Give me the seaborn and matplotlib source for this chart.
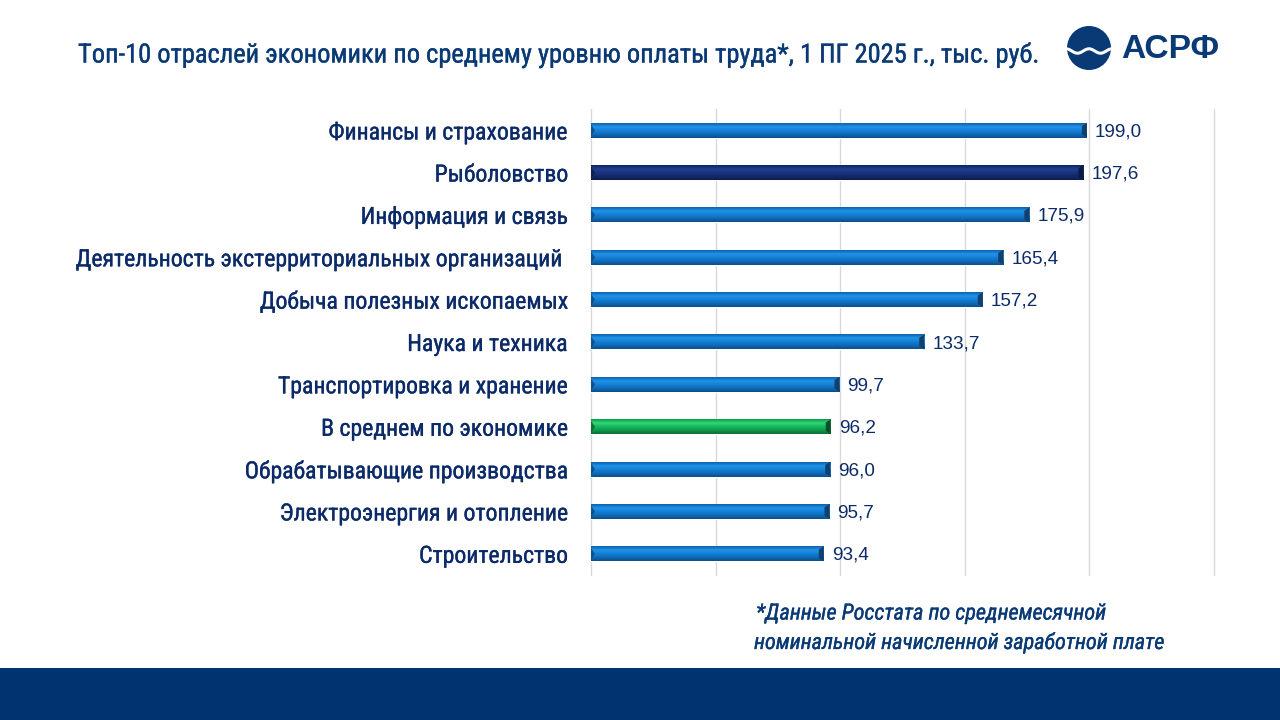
import numpy as np
import pandas as pd
import matplotlib
matplotlib.use("Agg")
import matplotlib.pyplot as plt
import matplotlib.patheffects as pe
from matplotlib.colors import LinearSegmentedColormap
from matplotlib.patches import Circle, Polygon, Rectangle
import seaborn as sns

categories = [
    "Финансы и страхование",
    "Рыболовство",
    "Информация и связь",
    "Деятельность экстерриториальных организаций ",
    "Добыча полезных ископаемых",
    "Наука и техника",
    "Транспортировка и хранение",
    "В среднем по экономике",
    "Обрабатывающие производства",
    "Электроэнергия и отопление",
    "Строительство",
]
values = [199.0, 197.6, 175.9, 165.4, 157.2, 133.7, 99.7, 96.2, 96.0, 95.7, 93.4]
kinds = ["blue", "navy", "blue", "blue", "blue", "blue", "blue", "green", "blue", "blue", "blue"]
x_ticks = [0, 50, 100, 150, 200, 250]

TITLE = "Топ-10 отраслей экономики по среднему уровню оплаты труда*, 1 ПГ 2025 г., тыс. руб."
NOTE_1 = "*Данные Росстата по среднемесячной"
NOTE_2 = "номинальной начисленной заработной плате"

DARK_TEXT = "#0b2a68"
TITLE_COLOR = "#0a3a76"
BAND_COLOR = "#00336f"
NARROW = ["Roboto Condensed", "Liberation Sans", "DejaVu Sans"]
ARIAL = ["Liberation Sans", "DejaVu Sans"]

# gradient stops top to bottom, plus the darker end caps
bevels = {
    "blue": (["#0f63ad", "#1f93ea", "#1480d6", "#0f6bb8", "#0c4f8a"], "#123f6b"),
    "navy": (["#0f2560", "#1f3f8f", "#1a3580", "#122a68", "#0c1f50"], "#0a1a40"),
    "green": (["#0f9a4c", "#2fd877", "#18b85c", "#0f9a4c", "#0a6e38"], "#0b4f2a"),
}
palette = {k: bevels[k][0][2] for k in bevels}


def thicker(color, width=0.25):
    # the reference text is a bit heavier than the regular cut
    return [pe.withStroke(linewidth=width, foreground=color)]


sns.set_style("white")
df = pd.DataFrame({"category": categories, "value": values, "kind": kinds})

fig = plt.figure(figsize=(12.8, 7.2), dpi=100)
W, H = 1280, 720

# page layer in pixel coordinates: title, logo, footnote, bottom band
page = fig.add_axes([0, 0, 1, 1], zorder=0)
page.set_xlim(0, W)
page.set_ylim(H, 0)
page.axis("off")
page.add_patch(Rectangle((0, 668), W, 52, color=BAND_COLOR, lw=0))
page.text(78, 55, TITLE, family=NARROW, fontsize=19.05, color=TITLE_COLOR, va="center", ha="left",
          path_effects=thicker(TITLE_COLOR))
page.text(756, 614, NOTE_1, family=NARROW, style="italic", fontsize=16, color=TITLE_COLOR, va="center",
          path_effects=thicker(TITLE_COLOR))
page.text(754, 643, NOTE_2, family=NARROW, style="italic", fontsize=16, color=TITLE_COLOR, va="center",
          path_effects=thicker(TITLE_COLOR))

circle = Circle((1089, 48), 22, color=TITLE_COLOR, lw=0)
page.add_patch(circle)
wave_x = np.linspace(1066, 1112, 80)
wave, = page.plot(wave_x, 51 - 2.2 * np.cos((wave_x - 1089) / 46 * 2 * np.pi * 2), color="white", lw=2.2)
wave.set_clip_path(circle)
page.text(1121.5, 49, "АСРФ", family=ARIAL, fontweight="bold", fontsize=24.2, color=TITLE_COLOR, va="center", ha="left")

# chart axes
ax = fig.add_axes([591 / W, 1 - 575 / H, (1214 - 591) / W, (575 - 109) / H], zorder=1)
ax.patch.set_alpha(0)
sns.barplot(data=df, y="category", x="value", hue="kind", palette=palette, dodge=False,
            width=0.35, legend=False, ax=ax)

ax.set_xlim(0, 250)
ax.set_ylim(len(categories) - 0.5, -0.5)
ax.set_xticks(x_ticks)
ax.set_xticklabels([])
ax.set_xlabel("")
ax.set_ylabel("")
ax.grid(axis="x", color="#d9d9d9", lw=1)
for line in ax.get_xgridlines():
    line.set_clip_on(False)
ax.set_axisbelow(True)
sns.despine(ax=ax, left=True, bottom=True)
ax.tick_params(axis="both", length=0)
ax.tick_params(axis="y", pad=16.5)
for label in ax.get_yticklabels():
    label.set_family(NARROW)
    label.set_fontsize(17.1)
    label.set_color(DARK_TEXT)
    label.set_path_effects(thicker(DARK_TEXT))

# bevel look: gradient over each bar, dark caps at both ends, value label
cap = 2.0
for container in ax.containers:
    for bar in container:
        if bar.get_width() <= 0 or np.isnan(bar.get_width()):
            continue
        x1 = bar.get_width()
        y0, h = bar.get_y(), bar.get_height()
        idx = int(round(y0 + h / 2))
        stops, cap_color = bevels[kinds[idx]]
        cmap = LinearSegmentedColormap.from_list("bevel", stops)
        ax.imshow(np.linspace(0, 1, 32).reshape(-1, 1), cmap=cmap, aspect="auto", origin="upper",
                  extent=(0, x1, y0 + h, y0), zorder=2.5)
        ax.add_patch(Polygon([(x1, y0), (x1, y0 + h), (x1 - cap, y0 + h * 0.78), (x1 - cap, y0 + h * 0.22)],
                             color=cap_color, lw=0, zorder=2.6))
        ax.add_patch(Polygon([(0, y0 + h * 0.1), (0, y0 + h * 0.9), (cap * 0.8, y0 + h * 0.5)],
                             color=cap_color, alpha=0.7, lw=0, zorder=2.6))
        ax.annotate(f"{x1:.1f}".replace(".", ","), (x1, y0 + h / 2), xytext=(8, -1.5),
                    textcoords="offset pixels", family=ARIAL, fontsize=13.6, color=DARK_TEXT,
                    va="center", ha="left", annotation_clip=False)

ax.set_xlim(0, 250)
ax.set_ylim(len(categories) - 0.5, -0.5)

fig.savefig("out.png", dpi=100)
